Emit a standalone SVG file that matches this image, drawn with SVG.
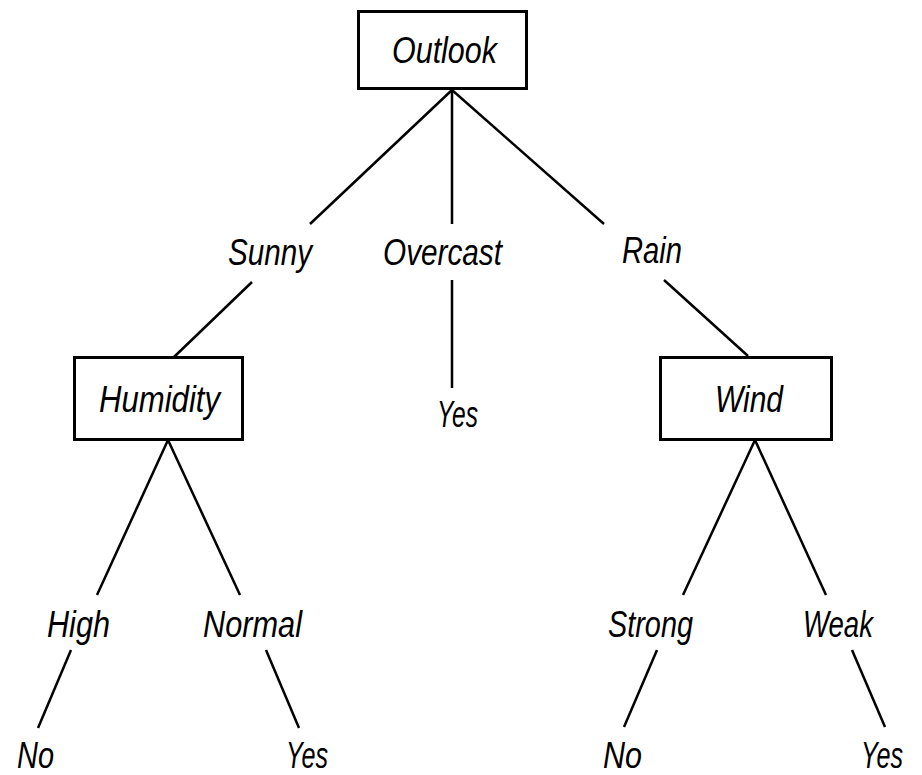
<svg xmlns="http://www.w3.org/2000/svg" width="922" height="775" viewBox="0 0 922 775">
<style>
.bg{fill:#fff}
.box{fill:#fff;stroke:#000;stroke-width:3}
.edge{stroke:#000;stroke-width:2.5;fill:none}
.t{font-family:"Liberation Sans",Arial,sans-serif;font-style:italic;font-size:36px;fill:#000}
</style>
<rect class="bg" x="0" y="0" width="922" height="775"/>
<g id="connectors">
<line class="edge" x1="452" y1="90" x2="310" y2="224"/>
<line class="edge" x1="452" y1="90" x2="452" y2="224"/>
<line class="edge" x1="452" y1="90" x2="604" y2="224"/>
<line class="edge" x1="252" y1="282" x2="174" y2="357"/>
<line class="edge" x1="452" y1="280" x2="452" y2="388"/>
<line class="edge" x1="664" y1="280" x2="748" y2="356"/>
<line class="edge" x1="168" y1="440" x2="97" y2="595"/>
<line class="edge" x1="168" y1="440" x2="240" y2="595"/>
<line class="edge" x1="71" y1="650" x2="38" y2="728"/>
<line class="edge" x1="266" y1="650" x2="299" y2="728"/>
<line class="edge" x1="755" y1="440" x2="683" y2="595"/>
<line class="edge" x1="755" y1="440" x2="826" y2="595"/>
<line class="edge" x1="657" y1="650" x2="624" y2="727"/>
<line class="edge" x1="852" y1="650" x2="885" y2="727"/>
</g>
<g id="node-outlook">
<rect class="box" x="358.5" y="11.5" width="168" height="77"/>
<text class="t" x="392" y="63" textLength="105" lengthAdjust="spacingAndGlyphs">Outlook</text>
</g>
<g id="label-sunny"><text class="t" x="228" y="265" textLength="84" lengthAdjust="spacingAndGlyphs">Sunny</text></g>
<g id="label-overcast"><text class="t" x="383" y="265" textLength="119" lengthAdjust="spacingAndGlyphs">Overcast</text></g>
<g id="label-rain"><text class="t" x="622" y="263" textLength="60" lengthAdjust="spacingAndGlyphs">Rain</text></g>
<g id="node-humidity">
<rect class="box" x="74.5" y="357.5" width="168" height="82"/>
<text class="t" x="99" y="412" textLength="121" lengthAdjust="spacingAndGlyphs">Humidity</text>
</g>
<g id="leaf-yes-overcast"><text class="t" x="437" y="427" textLength="41" lengthAdjust="spacingAndGlyphs">Yes</text></g>
<g id="node-wind">
<rect class="box" x="660.5" y="357.5" width="171" height="82"/>
<text class="t" x="715" y="412" textLength="68" lengthAdjust="spacingAndGlyphs">Wind</text>
</g>
<g id="label-high"><text class="t" x="47" y="637" textLength="63" lengthAdjust="spacingAndGlyphs">High</text></g>
<g id="label-normal"><text class="t" x="203" y="637" textLength="99" lengthAdjust="spacingAndGlyphs">Normal</text></g>
<g id="label-strong"><text class="t" x="608" y="637" textLength="85" lengthAdjust="spacingAndGlyphs">Strong</text></g>
<g id="label-weak"><text class="t" x="803" y="637" textLength="70" lengthAdjust="spacingAndGlyphs">Weak</text></g>
<g id="leaf-no-high"><text class="t" x="17" y="768" textLength="37" lengthAdjust="spacingAndGlyphs">No</text></g>
<g id="leaf-yes-normal"><text class="t" x="286" y="768" textLength="42" lengthAdjust="spacingAndGlyphs">Yes</text></g>
<g id="leaf-no-strong"><text class="t" x="603" y="768" textLength="39" lengthAdjust="spacingAndGlyphs">No</text></g>
<g id="leaf-yes-weak"><text class="t" x="861" y="768" textLength="42" lengthAdjust="spacingAndGlyphs">Yes</text></g>
</svg>
